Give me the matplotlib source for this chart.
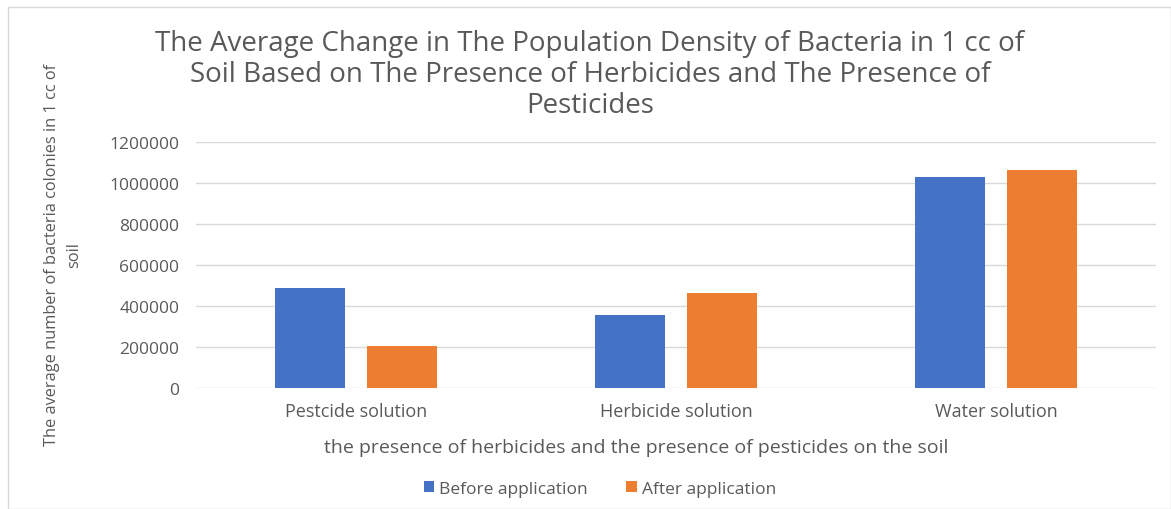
import numpy as np
import matplotlib.pyplot as plt
from matplotlib.patches import Rectangle

# data
categories = ['Pestcide solution', 'Herbicide solution', 'Water solution']
before = [490000, 358000, 1029000]
after = [205000, 463000, 1062000]
yticks = [0, 200000, 400000, 600000, 800000, 1000000, 1200000]

plt.rcParams['font.family'] = ['Open Sans', 'DejaVu Sans']
grey = '#595959'

fig = plt.figure(figsize=(11.71, 5.10), dpi=100)
ax = fig.add_axes([196 / 1171, 1 - 389 / 510, 960 / 1171, 246 / 510])

x = np.arange(len(categories))
width = 0.22
ax.bar(x - 0.143, before, width, color='#4472C4', label='Before application', zorder=3)
ax.bar(x + 0.143, after, width, color='#ED7D31', label='After application', zorder=3)

ax.set_xlim(-0.5, 2.5)
ax.set_ylim(0, 1200000)
ax.set_yticks(yticks)
ax.set_yticklabels([str(v) for v in yticks])
ax.set_xticks(x)
ax.set_xticklabels(categories)
ax.tick_params(axis='both', length=0, colors=grey)
ax.tick_params(axis='y', pad=12, labelsize=12.5)
ax.tick_params(axis='x', pad=10, labelsize=13)
ax.grid(axis='y', color='#D9D9D9', linewidth=1, zorder=0)
for s in ax.spines.values():
    s.set_visible(False)

fig.text(590 / 1171, 1 - 75 / 510,
         'The Average Change in The Population Density of Bacteria in 1 cc of\n'
         'Soil Based on The Presence of Herbicides and The Presence of\n'
         'Pesticides',
         ha='center', va='center', fontsize=20, color=grey, linespacing=1.16)

fig.text(636 / 1171, 1 - 448 / 510,
         'the presence of herbicides and the presence of pesticides on the soil',
         ha='center', va='center', fontsize=14, color=grey)

fig.text(63 / 1171, 1 - 255 / 510,
         'The average number of bacteria colonies in 1 cc of\nsoil',
         ha='center', va='center', rotation=90, fontsize=11.8, color=grey,
         linespacing=1.55)

fig.legend(loc='center', bbox_to_anchor=(600 / 1171, 1 - 490 / 510), ncol=2,
           frameon=False, fontsize=12.5, labelcolor=grey, handlelength=0.6,
           handleheight=0.6, handletextpad=0.3, columnspacing=2.2)

fig.patches.append(Rectangle((8 / 1171, 0), 1 - 8 / 1171, 1 - 8 / 510,
                             transform=fig.transFigure, fill=False,
                             edgecolor='#D9D9D9', linewidth=1))

fig.savefig('out.png', dpi=100)
